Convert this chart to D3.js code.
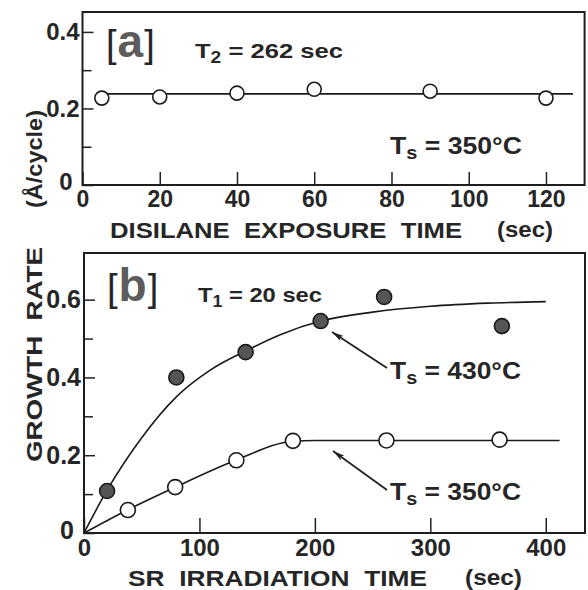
<!DOCTYPE html>
<html>
<head>
<meta charset="utf-8">
<script src="https://cdn.jsdelivr.net/npm/d3@7"></script>
<style>
  body { margin: 0; background: #fff; }
  text { font-family: "Liberation Sans", Arial, sans-serif; fill: #262626; }
</style>
</head>
<body>
<div id="chart"></div>
<script>
// panel [a] : growth rate vs disilane exposure time (Ts = 350C)
var aTime = [5, 20, 40, 60, 90, 120];
var aRate = [0.227, 0.23, 0.24, 0.25, 0.245, 0.227];
var aFitTime = [4, 127];
var aFitRate = [0.238, 0.238];
var aXTicks = [0, 20, 40, 60, 80, 100, 120];
var aYTicks = [0, 0.2, 0.4];
var aYMinor = [0.1, 0.3];

// panel [b] : growth rate vs SR irradiation time
var bTime430 = [20, 80, 140, 205, 260, 362];
var bRate430 = [0.108, 0.40, 0.465, 0.545, 0.607, 0.532];
var bTime350 = [38, 79, 132, 181, 262, 360];
var bRate350 = [0.059, 0.118, 0.187, 0.237, 0.238, 0.24];
var bFit430Time = [0, 20, 50, 80, 110, 140, 170, 205, 250, 300, 350, 400];
var bFit430Rate = [0, 0.11, 0.245, 0.35, 0.42, 0.468, 0.51, 0.545, 0.568, 0.583, 0.591, 0.595];
var bFit350Time = [0, 38, 79, 132, 181, 200, 412];
var bFit350Rate = [0, 0.06, 0.118, 0.188, 0.236, 0.238, 0.238];
var bXTicks = [0, 100, 200, 300, 400];
var bYTicks = [0, 0.2, 0.4, 0.6];
var bYMinor = [0.1, 0.3, 0.5];

var W = 588, H = 590;
var svg = d3.select("#chart").append("svg")
    .attr("width", W).attr("height", H);

svg.append("defs").append("marker")
    .attr("id", "arrow")
    .attr("viewBox", "0 0 12 6")
    .attr("refX", 12).attr("refY", 3)
    .attr("markerWidth", 12).attr("markerHeight", 6)
    .attr("markerUnits", "userSpaceOnUse")
    .attr("orient", "auto")
  .append("path")
    .attr("d", "M0,0 L12,3 L0,6 L3,3 Z")
    .attr("fill", "#222");

// scales
var xA = d3.scaleLinear().domain([0, 130]).range([82.5, 584.6]);
var yA = d3.scaleLinear().domain([0, 0.452]).range([185, 12]);
var xB = d3.scaleLinear().domain([0, 434]).range([84, 585]);
var yB = d3.scaleLinear().domain([0, 0.72]).range([533, 253]);

function styleAxis(g, size) {
  g.select(".domain").remove();
  g.selectAll("line").attr("stroke", "#222").attr("stroke-width", 1.5);
  g.selectAll("text")
    .attr("font-family", "Liberation Sans, Arial, sans-serif")
    .attr("font-weight", "bold")
    .attr("font-size", size)
    .attr("fill", "#2a2a2a");
}

function panel(x, y, xTicks, yTicks, yMinor, xTickLen, labSize) {
  var r = x.range(), ry = y.range();
  // x axis
  svg.append("g")
      .attr("transform", "translate(0," + ry[0] + ")")
      .call(d3.axisBottom(x).tickValues(xTicks).tickSize(-xTickLen).tickPadding(6)
        .tickFormat(d3.format("d")))
      .call(styleAxis, labSize);
  // y axis
  var gy = svg.append("g")
      .attr("transform", "translate(" + r[0] + ",0)")
      .call(d3.axisLeft(y).tickValues(yTicks).tickSize(-11).tickPadding(3)
        .tickFormat(function(d) { return d === 0 ? "0" : d3.format(".1f")(d); }))
      .call(styleAxis, labSize + 1);
  // the y "0" sits a little left of and above the x "0"
  gy.selectAll(".tick text").filter(function(d) { return d === 0; })
      .attr("x", -10).attr("dy", "0.2em");
  svg.append("g")
      .attr("transform", "translate(" + r[0] + ",0)")
      .call(d3.axisLeft(y).tickValues(yMinor).tickSize(-9).tickFormat(""))
      .call(styleAxis, labSize);
  // frame
  svg.append("rect")
      .attr("x", r[0]).attr("y", ry[1])
      .attr("width", r[1] - r[0]).attr("height", ry[0] - ry[1])
      .attr("fill", "none").attr("stroke", "#1e1e1e").attr("stroke-width", 2);
}

panel(xA, yA, aXTicks, aYTicks, aYMinor, 13, 23);
panel(xB, yB, bXTicks, bYTicks, bYMinor, 15, 24);

function fitLine(xs, ys, x, y, curve) {
  var pts = xs.map(function(d, i) { return [x(d), y(ys[i])]; });
  svg.append("path")
      .attr("d", d3.line().curve(curve)(pts))
      .attr("fill", "none").attr("stroke", "#1a1a1a").attr("stroke-width", 1.6);
}

function dots(xs, ys, x, y, rad, fill) {
  svg.append("g").selectAll("circle")
    .data(xs)
    .enter().append("circle")
      .attr("cx", function(d) { return x(d); })
      .attr("cy", function(d, i) { return y(ys[i]); })
      .attr("r", rad)
      .attr("fill", fill)
      .attr("stroke", "#1a1a1a").attr("stroke-width", 1.6);
}

// panel a marks
fitLine(aFitTime, aFitRate, xA, yA, d3.curveLinear);
dots(aTime, aRate, xA, yA, 7, "#fff");

// panel b marks
fitLine(bFit430Time, bFit430Rate, xB, yB, d3.curveMonotoneX);
fitLine(bFit350Time, bFit350Rate, xB, yB, d3.curveMonotoneX);
dots(bTime430, bRate430, xB, yB, 7.5, "#555");
dots(bTime350, bRate350, xB, yB, 7.5, "#fff");

// panel labels
function bracketLabel(letter, x, y) {
  var t = svg.append("text").attr("x", x).attr("y", y);
  t.append("tspan").attr("font-size", 38).text("[");
  t.append("tspan").attr("font-size", 46).attr("font-weight", "bold")
    .style("fill", "#5c5c5c").attr("dx", 1).text(letter);
  t.append("tspan").attr("font-size", 38).attr("dx", 1).text("]");
}
bracketLabel("a", 106, 57);
bracketLabel("b", 107, 301);

function subText(x, y, main, sub, rest, size, len) {
  var t = svg.append("text").attr("x", x).attr("y", y)
      .attr("font-size", size).attr("font-weight", "bold")
      .attr("textLength", len).attr("lengthAdjust", "spacingAndGlyphs");
  t.append("tspan").text(main);
  t.append("tspan").attr("font-size", size * 0.75).attr("dy", 5).text(sub);
  t.append("tspan").attr("dy", -5).text(rest);
}
subText(195, 58, "T", "2", " = 262 sec", 21, 148);
subText(390, 154, "T", "s", " = 350\u00B0C", 24, 132);
subText(198, 302, "T", "1", " = 20 sec", 21, 124);
subText(390, 379, "T", "s", " = 430\u00B0C", 24, 131);
subText(390, 500, "T", "s", " = 350\u00B0C", 24, 131);

// arrows
svg.append("line").attr("x1", 387).attr("y1", 368).attr("x2", 332).attr("y2", 332)
    .attr("stroke", "#222").attr("stroke-width", 1.8).attr("marker-end", "url(#arrow)");
svg.append("line").attr("x1", 387).attr("y1", 490).attr("x2", 333).attr("y2", 451)
    .attr("stroke", "#222").attr("stroke-width", 1.8).attr("marker-end", "url(#arrow)");

// axis titles
function title(txt, x, y, len, rot) {
  var t = svg.append("text")
      .attr("font-size", 22).attr("font-weight", "bold")
      .attr("textLength", len).attr("lengthAdjust", "spacingAndGlyphs")
      .style("white-space", "pre")
      .text(txt);
  if (rot) t.attr("transform", "translate(" + x + "," + y + ") rotate(-90)");
  else t.attr("x", x).attr("y", y);
}
title("DISILANE  EXPOSURE  TIME", 110, 238, 352);
title("(sec)", 497, 237, 56);
title("SR  IRRADIATION  TIME", 128, 586, 299);
title("(sec)", 465, 585, 57);
title("GROWTH  RATE", 42, 462, 215, true);
title("(\u00C5/cycle)", 42, 208, 98, true);
</script>
</body>
</html>
